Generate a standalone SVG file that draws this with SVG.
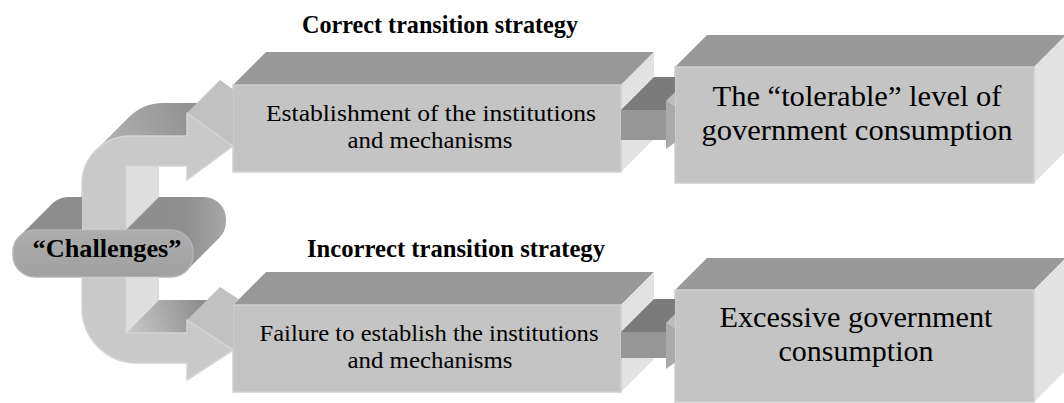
<svg xmlns="http://www.w3.org/2000/svg" width="1064" height="403" viewBox="0 0 1064 403">
  <defs>
    <style>
      .front{fill:#c4c4c4;stroke:#cfcfcf;stroke-width:1.5}
      .top{fill:#999999}
      .side{fill:#e2e2e2}
      .txt{font-family:"Liberation Serif","Times New Roman",serif;fill:#000;text-anchor:middle}
      .mid{font-size:24px}
      .big{font-size:30px}
      .lbl{font-family:"Liberation Serif","Times New Roman",serif;font-weight:bold;font-size:25px;fill:#000;text-anchor:middle}
      .cfront{fill:#c9c9c9;stroke:#d4d4d4;stroke-width:1.5;stroke-linejoin:round}
      .wall{fill:#dedede}
      .head{fill:#c1c1c1}
      .shaftTop{fill:#7b7b7b}
      .shaftFront{fill:#969696}
      .tipFront{fill:#aaaaaa}
      .tipTop{fill:#bdbdbd}
    </style>
    <linearGradient id="armTopGrad" gradientUnits="userSpaceOnUse" x1="96" y1="150" x2="220" y2="103">
      <stop offset="0" stop-color="#b4b4b4"/>
      <stop offset="1" stop-color="#888888"/>
    </linearGradient>
    <linearGradient id="botTopGrad" gradientUnits="userSpaceOnUse" x1="130" y1="333" x2="220" y2="300">
      <stop offset="0" stop-color="#c8c8c8"/>
      <stop offset="1" stop-color="#7f7f7f"/>
    </linearGradient>
    <linearGradient id="pillTopGrad" gradientUnits="userSpaceOnUse" x1="20" y1="0" x2="226" y2="0">
      <stop offset="0" stop-color="#8c8c8c"/>
      <stop offset="0.8" stop-color="#8e8e8e"/>
      <stop offset="1" stop-color="#a8a8a8"/>
    </linearGradient>
    <linearGradient id="pillFrontGrad" x1="0" y1="0" x2="0" y2="1">
      <stop offset="0" stop-color="#adadad"/>
      <stop offset="1" stop-color="#a0a0a0"/>
    </linearGradient>
    <!-- hides the C-shaped arrow wherever a node sits in front of it -->
    <mask id="nodeCut" maskUnits="userSpaceOnUse" x="0" y="0" width="1064" height="403">
      <rect width="1064" height="403" fill="#fff"/>
      <g fill="#000">
        <rect x="13" y="230" width="180" height="47" rx="22"/>
        <rect x="46" y="197" width="180" height="47" rx="22"/>
        <polygon points="19.4,236.4 52.4,203.4 219.6,237.6 186.6,270.6"/>
      </g>
      <polygon points="82,190 159,190 159,197 126,230 82,230" fill="#fff"/>
      <g fill="#000">
        <polygon points="233,85 266,52 654,52 654,139 621,172 233,172"/>
        <polygon points="233,305 266,272 654,272 654,359 621,392 233,392"/>
      </g>
    </mask>
  </defs>

  <rect width="1064" height="403" fill="#fff"/>

  <!-- start node -->
  <g id="node-challenges">
    <rect x="46" y="197" width="180" height="47" rx="22" fill="url(#pillTopGrad)"/>
    <polygon points="19.4,236.4 52.4,203.4 219.6,237.6 186.6,270.6" fill="url(#pillTopGrad)"/>
    <rect x="13" y="230" width="180" height="47" rx="22" fill="url(#pillFrontGrad)" stroke="#b4b4b4" stroke-width="1.5"/>
    <text class="lbl" x="107" y="257" font-size="24" textLength="149" lengthAdjust="spacingAndGlyphs">“Challenges”</text>
  </g>

  <!-- strategy labels -->
  <g id="label-correct">
    <text class="lbl" x="440" y="33" textLength="276" lengthAdjust="spacingAndGlyphs">Correct transition strategy</text>
  </g>
  <g id="label-incorrect">
    <text class="lbl" x="456" y="257" textLength="298" lengthAdjust="spacingAndGlyphs">Incorrect transition strategy</text>
  </g>

  <!-- middle column -->
  <g id="node-establish">
    <polygon class="top" points="233,85 266,52 654,52 621,85"/>
    <polygon class="side" points="621,85 654,52 654,139 621,172"/>
    <rect class="front" x="233" y="85" width="388" height="87"/>
    <text class="txt mid" x="431" y="121" textLength="330" lengthAdjust="spacingAndGlyphs">Establishment of the institutions</text>
    <text class="txt mid" x="430" y="148" textLength="165" lengthAdjust="spacingAndGlyphs">and mechanisms</text>
  </g>
  <g id="node-failure">
    <polygon class="top" points="233,305 266,272 654,272 621,305"/>
    <polygon class="side" points="621,305 654,272 654,359 621,392"/>
    <rect class="front" x="233" y="305" width="388" height="87"/>
    <text class="txt mid" x="429" y="341" textLength="339" lengthAdjust="spacingAndGlyphs">Failure to establish the institutions</text>
    <text class="txt mid" x="430" y="368" textLength="165" lengthAdjust="spacingAndGlyphs">and mechanisms</text>
  </g>

  <!-- outcome column -->
  <g id="node-tolerable">
    <polygon class="top" points="675,67 707,35 1066,35 1034,67"/>
    <polygon class="side" points="1034,67 1066,35 1066,151 1034,183"/>
    <rect class="front" x="675" y="67" width="359" height="116"/>
    <text class="txt big" x="857" y="106" textLength="289" lengthAdjust="spacingAndGlyphs">The “tolerable” level of</text>
    <text class="txt big" x="857" y="140" textLength="311" lengthAdjust="spacingAndGlyphs">government consumption</text>
  </g>
  <g id="node-excessive">
    <polygon class="top" points="675,290 707,258 1066,258 1034,290"/>
    <polygon class="side" points="1034,290 1066,258 1066,370 1034,402"/>
    <rect class="front" x="675" y="290" width="359" height="112"/>
    <text class="txt big" x="856" y="327" textLength="273" lengthAdjust="spacingAndGlyphs">Excessive government</text>
    <text class="txt big" x="856" y="361" textLength="155" lengthAdjust="spacingAndGlyphs">consumption</text>
  </g>

  <g id="connectors">
    <!-- C-shaped split arrow, extruded by (33,-33) -->
    <g id="edge-challenges-split" mask="url(#nodeCut)">
      <polygon class="wall" points="126,166 126,333 159,300 159,133"/>
      <polygon points="126,333 187,333 220,300 159,300" fill="url(#botTopGrad)"/>
      <path d="M96.1,150.1 A48,48 0 0 1 130,136 L187,136 L220,103 L163,103 A48,48 0 0 0 129.1,117.1 Z" fill="url(#armTopGrad)"/>
      <polygon class="head" points="187,113 233,146 266,113 220,80"/>
      <polygon class="head" points="187,320 233,350 266,317 220,287"/>
      <path class="cfront" d="M187,136 L130,136 A48,48 0 0 0 82,184 L82,308 A55,55 0 0 0 137,363 L187,363 L187,380 L233,350 L187,320 L187,333 L126,333 L126,166 L187,166 L187,180 L233,146 L187,113 Z"/>
    </g>
    <!-- short arrows into the outcome boxes -->
    <g id="edge-establish-tolerable">
      <polygon class="shaftTop" points="621,110 654,77 675,77 675,110"/>
      <rect class="shaftFront" x="621" y="110" width="45" height="30"/>
      <polygon class="tipTop" points="666,101 675,107.4 675,92"/>
      <polygon class="tipFront" points="666,101 675,107.4 675,142.6 666,149"/>
    </g>
    <g id="edge-failure-excessive">
      <polygon class="shaftTop" points="621,332 654,299 675,299 675,332"/>
      <rect class="shaftFront" x="621" y="332" width="45" height="26"/>
      <polygon class="tipTop" points="666,323 675,329.4 675,314"/>
      <polygon class="tipFront" points="666,323 675,329.4 675,362.6 666,369"/>
    </g>
  </g>
</svg>
